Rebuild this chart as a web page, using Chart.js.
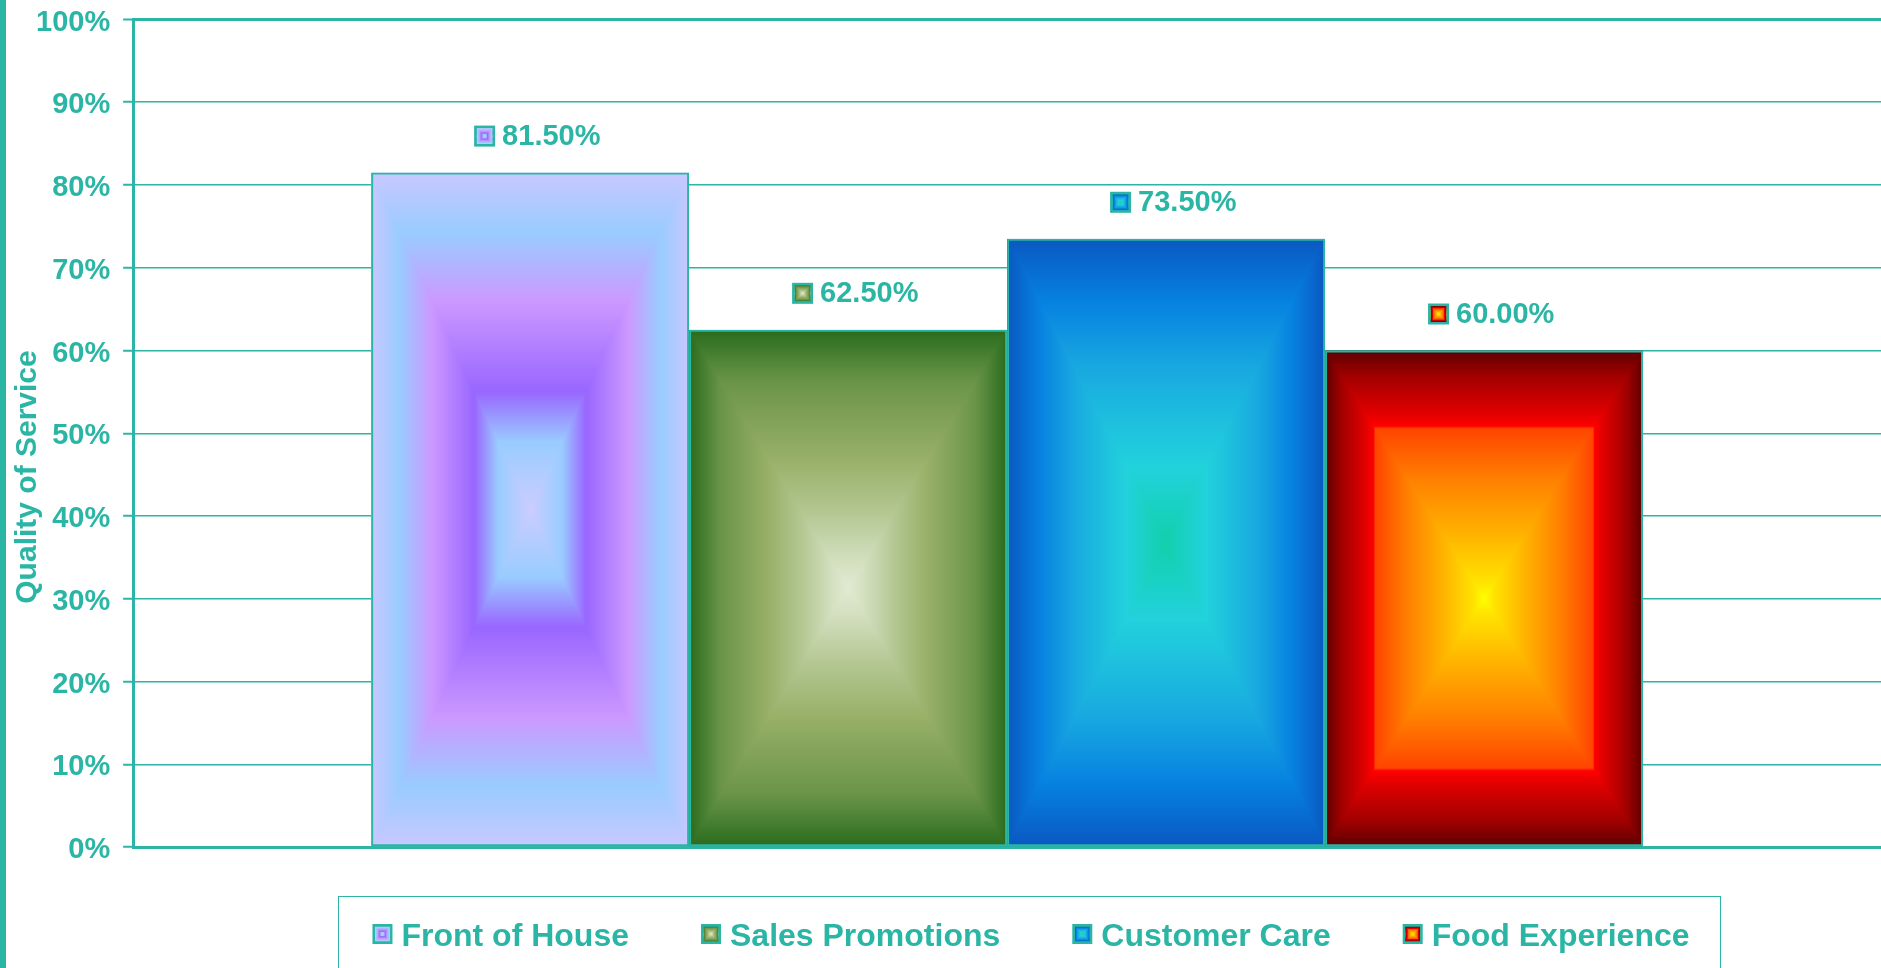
<!DOCTYPE html>
<html>
<head>
<meta charset="utf-8">
<script src="https://cdn.jsdelivr.net/npm/chart.js@4.4.1/dist/chart.umd.min.js"></script>
<style>
  html, body { margin: 0; padding: 0; background: #fff; overflow: hidden; }
  #wrap { width: 1881px; height: 968px; position: relative; }
</style>
</head>
<body>
<div id="wrap"><canvas id="qosChart" width="1881" height="968"></canvas></div>
<script>
// data
const categories = ["Front of House", "Sales Promotions", "Customer Care", "Food Experience"];
const qualityValues = [81.5, 62.5, 73.5, 60.0];
const axisTitle = "Quality of Service";
const yMin = 0, yMax = 100, yStep = 10;

const TEAL = "#2ab5a5";
const FONT = "'Liberation Sans', Arial, sans-serif";

// "from center" rectangular fills, [t, colour] with t=0 at the centre, t=1 at the edge
const barStops = [
  [[0, "#ccccff"], [0.2, "#99ccff"], [0.35, "#9966ff"], [0.62, "#cc99ff"], [0.82, "#99ccff"], [1, "#c8c8ff"]],
  [[0, "#e0ead2"], [0.1, "#d4e0c0"], [0.3, "#b2c690"], [0.5, "#98b068"], [0.8, "#6a9448"], [0.93, "#3f7a2c"], [1, "#2a6a1c"]],
  [[0, "#12d0ac"], [0.25, "#22d2dc"], [0.58, "#18a8e0"], [0.8, "#0680e0"], [1, "#0a58c0"]],
  [[0, "#ffff00"], [0.06, "#ffe400"], [0.27, "#ffb000"], [0.48, "#ff8000"], [0.685, "#ff4400"], [0.695, "#ff0000"], [0.75, "#e00000"], [0.9, "#a00000"], [1, "#5c0000"]]
];

function paintRectGradient(ctx, x0, y0, x1, y1, stops) {
  const cx = (x0 + x1) / 2, cy = (y0 + y1) / 2;
  const grad = (ax, ay, bx, by) => {
    const g = ctx.createLinearGradient(ax, ay, bx, by);
    stops.forEach(([t, c]) => g.addColorStop(1 - t, c));
    return g;
  };
  ctx.save();
  ctx.beginPath();
  ctx.rect(x0, y0, x1 - x0, y1 - y0);
  ctx.clip();
  // top and bottom halves first, sides clipped to triangles on top
  ctx.fillStyle = grad(cx, y0, cx, cy);
  ctx.fillRect(x0, y0, x1 - x0, cy - y0 + 1);
  ctx.fillStyle = grad(cx, y1, cx, cy);
  ctx.fillRect(x0, cy, x1 - x0, y1 - cy);
  [[x0, cx], [x1, cx]].forEach(([ex, mx]) => {
    ctx.save();
    ctx.beginPath();
    ctx.moveTo(ex, y0);
    ctx.lineTo(ex, y1);
    ctx.lineTo(mx, cy);
    ctx.closePath();
    ctx.clip();
    ctx.fillStyle = grad(ex, cy, mx, cy);
    ctx.fillRect(x0, y0, x1 - x0, y1 - y0);
    ctx.restore();
  });
  ctx.restore();
}

function drawKey(ctx, x, y, size, i) {
  ctx.fillStyle = TEAL;
  ctx.fillRect(x, y, size, size);
  paintRectGradient(ctx, x + 2.5, y + 2.5, x + size - 2.5, y + size - 2.5, barStops[i]);
}

const decorPlugin = {
  id: "decor",
  beforeDatasetsDraw(chart) {
    const ctx = chart.ctx;
    chart.data.datasets.forEach((ds, i) => {
      chart.getDatasetMeta(i).data.forEach(el => {
        const p = el.getProps(["x", "y", "width", "base"], true);
        paintRectGradient(ctx, p.x - p.width / 2, p.y, p.x + p.width / 2, p.base, barStops[i]);
      });
    });
  },
  afterDatasetsDraw(chart) {
    const ctx = chart.ctx;
    ctx.save();
    ctx.font = "bold 29px " + FONT;
    ctx.textBaseline = "alphabetic";
    ctx.textAlign = "left";
    chart.data.datasets.forEach((ds, i) => {
      chart.getDatasetMeta(i).data.forEach((el, j) => {
        const left = el.x - 56;
        const baseline = el.y - 28;
        drawKey(ctx, left, baseline - 19, 21, i);
        ctx.fillStyle = TEAL;
        ctx.fillText(ds.data[j].toFixed(2) + "%", left + 28, baseline);
      });
    });
    ctx.restore();
  },
  afterDraw(chart) {
    const ctx = chart.ctx;
    ctx.save();
    // left frame edge
    ctx.fillStyle = TEAL;
    ctx.fillRect(0, 0, 6, chart.height);

    // y axis title
    ctx.save();
    ctx.translate(36, 477);
    ctx.rotate(-Math.PI / 2);
    ctx.font = "bold 30px " + FONT;
    ctx.textAlign = "center";
    ctx.textBaseline = "alphabetic";
    ctx.fillText(axisTitle, 0, 0);
    ctx.restore();

    // legend
    ctx.strokeStyle = TEAL;
    ctx.lineWidth = 1;
    ctx.strokeRect(338.5, 896.5, 1382, 120);
    ctx.font = "bold 32px " + FONT;
    const labels = chart.data.datasets.map(d => d.label);
    const widths = labels.map(t => ctx.measureText(t).width);
    const total = widths.reduce((a, b) => a + b, 0) + labels.length * 29 + (labels.length - 1) * 72;
    let x = 1031 - total / 2;
    labels.forEach((t, i) => {
      drawKey(ctx, x, 924, 20, i);
      ctx.fillStyle = TEAL;
      ctx.fillText(t, x + 29, 946);
      x += 29 + widths[i] + 72;
    });
    ctx.restore();
  }
};

new Chart(document.getElementById("qosChart"), {
  type: "bar",
  data: {
    labels: [""],
    datasets: categories.map((name, i) => ({
      label: name,
      data: [qualityValues[i]],
      backgroundColor: "rgba(0,0,0,0)",
      borderColor: TEAL,
      borderWidth: 2,
      borderSkipped: false,
      categoryPercentage: 0.7277,
      barPercentage: 1
    }))
  },
  options: {
    responsive: false,
    devicePixelRatio: 1,
    animation: false,
    events: [],
    layout: { padding: { left: 23, top: 19.5, right: 0, bottom: 121 } },
    plugins: {
      legend: { display: false },
      tooltip: { enabled: false }
    },
    scales: {
      x: {
        ticks: { display: false },
        grid: { display: false, drawTicks: false },
        border: { display: true, color: TEAL, width: 3 }
      },
      y: {
        min: yMin,
        max: yMax,
        ticks: {
          stepSize: yStep,
          padding: 13,
          labelOffset: 3,
          color: TEAL,
          font: { family: FONT, size: 29, weight: "bold", lineHeight: 0.4 },
          callback: v => v + "%"
        },
        grid: {
          color: TEAL,
          lineWidth: c => (c.tick && c.tick.value === yMax ? 3 : 1.5),
          tickLength: 10,
          tickWidth: 2,
          tickColor: TEAL
        },
        border: { display: true, color: TEAL, width: 3 }
      }
    }
  },
  plugins: [decorPlugin]
});
</script>
</body>
</html>
